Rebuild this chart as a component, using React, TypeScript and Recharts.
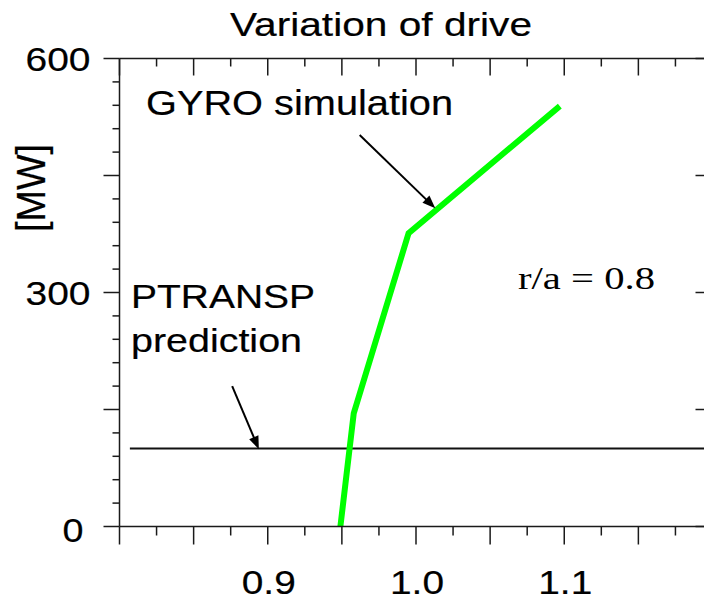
import React from 'react';
import { LineChart, Line, XAxis, YAxis, ReferenceLine } from 'recharts';

// ---- data ----
const gyroX = [0.949, 0.958, 0.995, 1.097];
const gyroY = [0, 145, 376, 539];
const ptranspX = [0.807, 1.2];
const ptranspY = [100, 100];

const xTicks = [0.8, 0.825, 0.85, 0.875, 0.9, 0.925, 0.95, 0.975, 1.0, 1.025, 1.05, 1.075, 1.1, 1.125, 1.15, 1.175, 1.2];
const yTicks = [0, 30, 60, 90, 120, 150, 180, 210, 240, 270, 300, 330, 360, 390, 420, 450, 480, 510, 540, 570, 600];
const xLabelValues = [0.9, 1.0, 1.1];
const yLabelValues = [0, 300, 600];

const gyroArrow = [{ x: 0.962, y: 502 }, { x: 1.013, y: 408 }];
const ptranspArrow = [{ x: 0.876, y: 180 }, { x: 0.894, y: 99 }];

const gyroData = gyroX.map((x, i) => ({ x, y: gyroY[i] }));
const ptranspData = ptranspX.map((x, i) => ({ x, y: ptranspY[i] }));

const SANS = "Liberation Sans, Arial, Helvetica, sans-serif";
const SERIF = "Liberation Serif, Times New Roman, Times, serif";
const AX = '#1a1a1a';

const isMajor = (v: number, step: number) => Math.abs(v / step - Math.round(v / step)) < 1e-6;
const hasLabel = (arr: number[], v: number) => arr.some((a) => Math.abs(a - v) < 1e-9);

const T = (p: any) => {
  const { x, y, size, family, len, anchor, children, transform, sw } = p;
  return (
    <text x={x} y={y} transform={transform} textAnchor={anchor || 'start'} textLength={len}
      lengthAdjust="spacingAndGlyphs" fill="#000" stroke="#000" strokeWidth={sw ?? 0.2}
      style={{ fontFamily: family || SANS, fontSize: size + 'px' }}>
      {children}
    </text>
  );
};

const BottomTick = (p: any) => {
  const { x, y, payload } = p;
  const v = payload.value;
  const len = isMajor(v, 0.05) ? 18 : 9;
  return (
    <g>
      <line x1={x} x2={x} y1={y} y2={y + len} stroke={AX} strokeWidth={1.5} />
      {hasLabel(xLabelValues, v) && (
        <T x={x + 1} y={y + 67.5} anchor="middle" size={34} len={54}>{v.toFixed(1)}</T>
      )}
    </g>
  );
};

const TopTick = (p: any) => {
  const { x, y, payload } = p;
  const len = isMajor(payload.value, 0.05) ? 17 : 8;
  return <line x1={x} x2={x} y1={y} y2={y + len} stroke={AX} strokeWidth={1.5} />;
};

const LeftTick = (p: any) => {
  const { x, y, payload } = p;
  const v = payload.value;
  const len = isMajor(v, 150) ? 16 : 7;
  const isZero = v === 0;
  return (
    <g>
      <line x1={x - len} x2={x} y1={y} y2={y} stroke={AX} strokeWidth={1.5} />
      {hasLabel(yLabelValues, v) && (
        <T x={isZero ? x - 36 : x - 29} y={y + (isZero ? 15 : 12)} anchor="end" size={34}
          len={isZero ? 21 : 65}>{String(v)}</T>
      )}
    </g>
  );
};

const RightTick = (p: any) => {
  const { x, y, payload } = p;
  const len = isMajor(payload.value, 150) ? 17 : 8;
  return <line x1={x - len} x2={x} y1={y} y2={y} stroke={AX} strokeWidth={1.5} />;
};

const Arrow = (p: any) => {
  const { x1, y1, x2, y2 } = p;
  const dx = x2 - x1;
  const dy = y2 - y1;
  const L = Math.hypot(dx, dy) || 1;
  const ux = dx / L;
  const uy = dy / L;
  const hl = 13;
  const hw = 5;
  const bx = x2 - ux * hl;
  const by = y2 - uy * hl;
  const pts = `${x2},${y2} ${bx - uy * hw},${by + ux * hw} ${bx + uy * hw},${by - ux * hw}`;
  return (
    <g>
      <line x1={x1} y1={y1} x2={bx + ux * 2} y2={by + uy * 2} stroke="#000" strokeWidth={2} />
      <polygon points={pts} fill="#000" />
    </g>
  );
};

export default function App() {
  return (
    <div style={{ position: 'absolute', left: 0, top: 0, width: 704, height: 605, overflow: 'hidden', background: '#fff' }}>
      <LineChart width={730} height={605} margin={{ top: 0, left: 0, right: 7.5, bottom: 0 }}>
        <XAxis xAxisId="b" type="number" dataKey="x" domain={[0.8, 1.2]} allowDataOverflow
          ticks={xTicks} interval={0} height={78.5} tickSize={0} tickMargin={0} tickLine={false}
          tick={<BottomTick />} axisLine={{ stroke: AX, strokeWidth: 1.5 }} />
        <XAxis xAxisId="t" orientation="top" type="number" dataKey="x" domain={[0.8, 1.2]} allowDataOverflow
          ticks={xTicks} interval={0} height={58.5} tickSize={0} tickMargin={0} tickLine={false}
          tick={<TopTick />} axisLine={{ stroke: AX, strokeWidth: 1.5 }} />
        <YAxis yAxisId="l" type="number" dataKey="y" domain={[0, 600]} allowDataOverflow
          ticks={yTicks} interval={0} width={119.5} tickSize={0} tickMargin={0} tickLine={false}
          tick={<LeftTick />} axisLine={{ stroke: AX, strokeWidth: 1.5 }} />
        <YAxis yAxisId="r" orientation="right" type="number" dataKey="y" domain={[0, 600]} allowDataOverflow
          ticks={yTicks} interval={0} width={10} tickSize={0} tickMargin={0} tickLine={false}
          tick={<RightTick />} axisLine={{ stroke: AX, strokeWidth: 1.5 }} />

        <Line xAxisId="b" yAxisId="l" data={ptranspData} dataKey="y" type="linear" stroke="#111"
          strokeWidth={2} dot={false} activeDot={false} isAnimationActive={false} />
        <Line xAxisId="b" yAxisId="l" data={gyroData} dataKey="y" type="linear" stroke="#00ff00"
          strokeWidth={6} dot={false} activeDot={false} isAnimationActive={false} />

        <ReferenceLine xAxisId="b" yAxisId="l" segment={gyroArrow} shape={Arrow} />
        <ReferenceLine xAxisId="b" yAxisId="l" segment={ptranspArrow} shape={Arrow} />

        <T x={230} y={36} size={33} len={302}>Variation of drive</T>
        <T x={146} y={115} size={35} len={307}>GYRO simulation</T>
        <T x={131} y={308} size={33} len={184}>PTRANSP</T>
        <T x={131} y={352} size={33} len={171}>prediction</T>
        <T x={518} y={289} size={32} len={137} family={SERIF} sw={0}>r/a = 0.8</T>
        <T x={0} y={0} transform="translate(45,188) rotate(-90) scale(1,1.19)" anchor="middle" size={34} len={88}>[MW]</T>
      </LineChart>
    </div>
  );
}
